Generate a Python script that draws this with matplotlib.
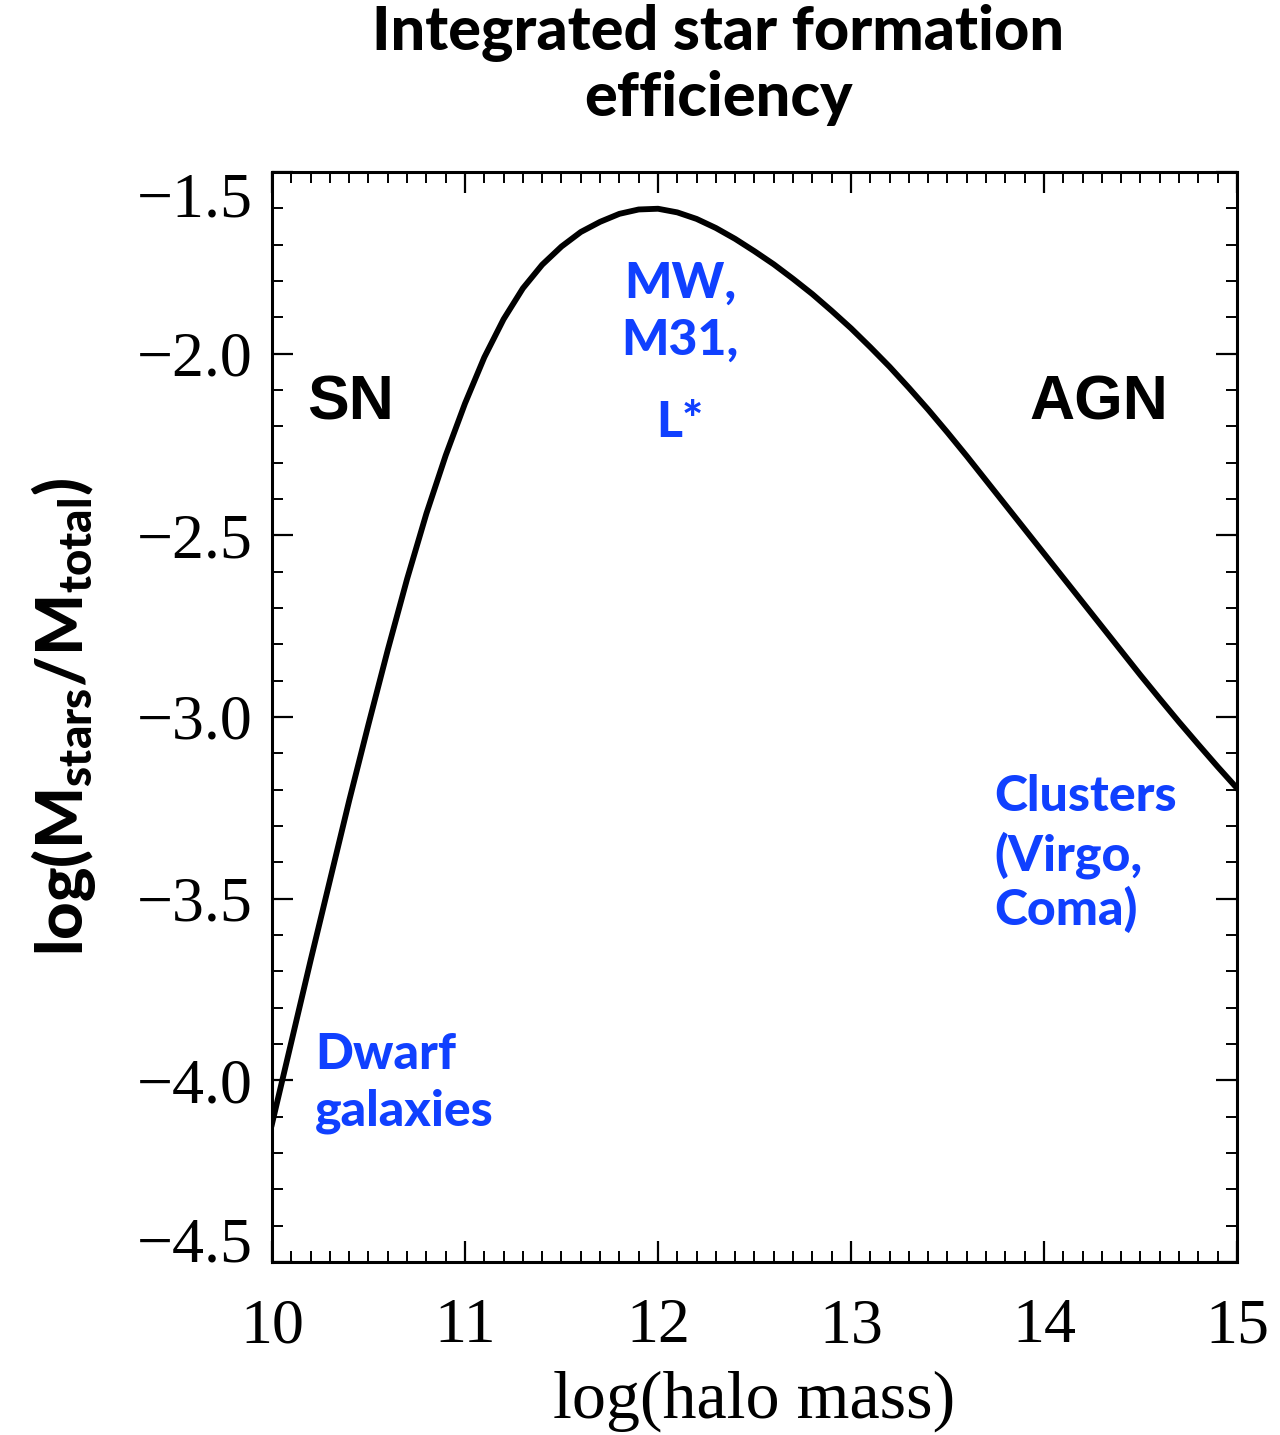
import numpy as np
import matplotlib
matplotlib.use('Agg')
import matplotlib.pyplot as plt
from matplotlib.ticker import MultipleLocator

# 积分恒星形成效率曲线 (读数点)
halo_mass = [10.0, 10.1, 10.2, 10.3, 10.4, 10.5, 10.6, 10.7, 10.8, 10.9,
             11.0, 11.1, 11.2, 11.3, 11.4, 11.5, 11.6, 11.7, 11.8, 11.9,
             12.0, 12.1, 12.2, 12.3, 12.4, 12.5, 12.6, 12.7, 12.8, 12.9,
             13.0, 13.1, 13.2, 13.3, 13.4, 13.5, 13.6, 13.7, 13.8, 13.9,
             14.0, 14.1, 14.2, 14.3, 14.4, 14.5, 14.6, 14.7, 14.8, 14.9, 15.0]
log_eff = [-4.12, -3.895, -3.67, -3.45, -3.23, -3.02, -2.815, -2.62, -2.44, -2.28,
           -2.137, -2.01, -1.905, -1.82, -1.755, -1.705, -1.665, -1.637, -1.615, -1.603,
           -1.601, -1.611, -1.629, -1.654, -1.684, -1.718, -1.754, -1.794, -1.836, -1.882,
           -1.930, -1.982, -2.036, -2.094, -2.154, -2.217, -2.282, -2.349, -2.416, -2.483,
           -2.550, -2.617, -2.684, -2.751, -2.818, -2.885, -2.950, -3.014, -3.076, -3.137, -3.196]

x_ticks = [10, 11, 12, 13, 14, 15]
y_ticks = [-4.5, -4.0, -3.5, -3.0, -2.5, -2.0, -1.5]

# 标注文字：(文本, x, y, 对齐)
blue_notes = [('MW,', 12.114, -1.805, 'center'),
              ('M31,', 12.114, -1.962, 'center'),
              ('L*', 12.114, -2.188, 'center'),
              ('Dwarf', 10.223, -3.929, 'left'),
              ('galaxies', 10.223, -4.086, 'left'),
              ('Clusters', 13.741, -3.219, 'left'),
              ('(Virgo,', 13.741, -3.379, 'left'),
              ('Coma)', 13.741, -3.530, 'left')]
black_notes = [('SN', 10.181, -2.136), ('AGN', 13.927, -2.136)]

plt.rcParams['mathtext.fontset'] = 'custom'
plt.rcParams['mathtext.bf'] = 'Lato:black'
plt.rcParams['mathtext.rm'] = 'Lato:black'

fig = plt.figure(figsize=(12.8, 14.35), dpi=100)
ax = fig.add_axes([0.2125, 0.1206, 0.7539, 0.7595])

ax.plot(halo_mass, log_eff, color='black', lw=4.2, solid_joinstyle='round')
ax.set_xlim(10, 15)
ax.set_ylim(-4.5, -1.5)

ax.xaxis.set_minor_locator(MultipleLocator(0.1))
ax.yaxis.set_minor_locator(MultipleLocator(0.1))
ax.set_xticks(x_ticks)
ax.set_yticks(y_ticks)
ax.set_xticklabels([str(t) for t in x_ticks], family='Liberation Serif', fontsize=46)
ylabels = ax.set_yticklabels(['\u2212%.1f' % abs(t) for t in y_ticks],
                             family='Liberation Serif', fontsize=46)
# 两端的刻度标签向内收
ylabels[0].set_va('baseline')
ylabels[-1].set_va('top')

ax.tick_params(which='both', direction='in', top=True, right=True, color='black')
ax.tick_params(which='major', length=15, width=1.6)
ax.tick_params(which='minor', length=8, width=1.4)
ax.tick_params(axis='x', which='major', pad=26)
ax.tick_params(axis='y', which='major', pad=14)
for sp in ax.spines.values():
    sp.set_linewidth(2.2)

ax.set_xlabel('log(halo mass)', family='Liberation Serif', fontsize=49, labelpad=10)
ax.set_ylabel(r'$\mathbf{log(M_{stars}/M_{total})}$', fontsize=47, labelpad=28)

for txt, x, y, ha in blue_notes:
    ax.text(x, y, txt, color='#1040ff', fontsize=36, family='Lato', weight='black',
            ha=ha, va='center')
for txt, x, y in black_notes:
    ax.text(x, y, txt, color='black', fontsize=45, family='Liberation Sans', weight='bold',
            ha='left', va='center')

fig.text(0.561, 0.977, 'Integrated star formation', fontsize=44, family='Lato',
         weight='black', ha='center', va='center')
fig.text(0.561, 0.932, 'efficiency', fontsize=44, family='Lato',
         weight='black', ha='center', va='center')

fig.savefig('out.png', dpi=100)
